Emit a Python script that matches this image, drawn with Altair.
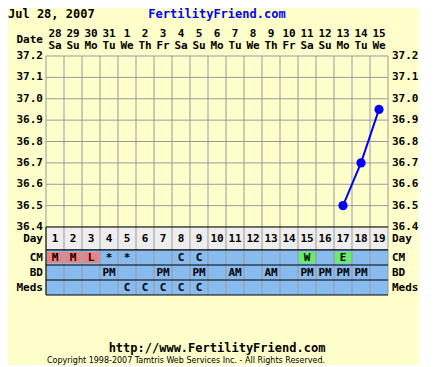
import altair as alt
import pandas as pd

# ---------------- data ----------------
days = list(range(1, 20))
dates = ["28", "29", "30", "31", "1", "2", "3", "4", "5", "6", "7", "8", "9",
         "10", "11", "12", "13", "14", "15"]
weekdays = ["Sa", "Su", "Mo", "Tu", "We", "Th", "Fr", "Sa", "Su", "Mo", "Tu",
            "We", "Th", "Fr", "Sa", "Su", "Mo", "Tu", "We"]
temp_days = [17, 18, 19]
temps = [36.5, 36.7, 36.95]
temp_ticks = [36.4, 36.5, 36.6, 36.7, 36.8, 36.9, 37.0, 37.1, 37.2]
rows = ["CM", "BD", "Meds"]
cm_days = [1, 2, 3, 4, 5, 8, 9, 15, 17]
cm_vals = ["M", "M", "L", "*", "*", "C", "C", "W", "E"]
cm_kind = ["red", "red", "red", "", "", "", "", "green", "green"]
bd_days = [4, 7, 9, 11, 13, 15, 16, 17, 18]
bd_vals = ["PM", "PM", "PM", "AM", "AM", "PM", "PM", "PM", "PM"]
med_days = [5, 6, 7, 8, 9]
med_vals = ["C", "C", "C", "C", "C"]

title_left = "Jul 28, 2007"
title_site = "FertilityFriend.com"
footer_url = "http://www.FertilityFriend.com"
footer_copy = "Copyright 1998-2007 Tamtris Web Services Inc. - All Rights Reserved."

# ---------------- style ----------------
BG = "#FFFFCC"
GRID = "#999999"
BLUE_ROW = "#88BBEE"
DAY_BG = "#EEEEEE"
RED = "#F08080"
GREEN = "#66EE66"
PT = "#0000FF"
FONT = "DejaVu Sans Mono"
FS = 11

W = 342
H_TEMP = 171
H_DAY = 23
H_TAB = 45

xscale = alt.Scale(domain=[0.5, 19.5], nice=False, zero=False)
yscale = alt.Scale(domain=[36.4, 37.2], nice=False, zero=False)

def txt(**kw):
    base = dict(font=FONT, fontSize=FS, fontWeight="bold", color="black", baseline="middle")
    base.update(kw)
    return base

bounds = pd.DataFrame({"b": [d - 0.5 for d in days] + [days[-1] + 0.5]})
day_df = pd.DataFrame({"day": days, "date": dates, "wd": weekdays,
                       "x0": [d - 0.5 for d in days], "x1": [d + 0.5 for d in days]})
tick_df = pd.DataFrame({"t": temp_ticks, "lab": [f"{t:.1f}" for t in temp_ticks]})
temp_df = pd.DataFrame({"day": temp_days, "temp": temps})

X = lambda f: alt.X(f, scale=xscale, axis=None)
YT = lambda f: alt.Y(f, scale=yscale, axis=None)

# ---------------- temperature panel ----------------
vl = alt.Chart(bounds).mark_rule(color=GRID, strokeWidth=1).encode(x=X("b:Q"))
hl = alt.Chart(tick_df).mark_rule(color=GRID, strokeWidth=1).encode(y=YT("t:Q"))
lab_l = alt.Chart(tick_df).mark_text(**txt(align="right")).encode(
    y=YT("t:Q"), x=alt.value(-3), text="lab:N")
lab_r = alt.Chart(tick_df).mark_text(**txt(align="left")).encode(
    y=YT("t:Q"), x=alt.value(W + 4), text="lab:N")
line = alt.Chart(temp_df).mark_line(color=PT, strokeWidth=2).encode(
    x=X("day:Q"), y=YT("temp:Q"))
pts = alt.Chart(temp_df).mark_circle(color=PT, size=85, opacity=1).encode(
    x=X("day:Q"), y=YT("temp:Q"))
hdr_date = alt.Chart(day_df).mark_text(**txt(align="center")).encode(
    x=X("day:Q"), y=alt.value(-22), text="date:N")
hdr_wd = alt.Chart(day_df).mark_text(**txt(align="center")).encode(
    x=X("day:Q"), y=alt.value(-10), text="wd:N")
title_df = pd.DataFrame({"t": [title_left], "s": [title_site], "d": ["Date"]})
t_left = alt.Chart(title_df).mark_text(**txt(align="left", fontSize=12)).encode(
    x=alt.value(-38), y=alt.value(-42), text="t:N")
t_site = alt.Chart(title_df).mark_text(**txt(align="center", fontSize=12, color="#0000FF")).encode(
    x=alt.value(W / 2), y=alt.value(-42), text="s:N")
t_date = alt.Chart(title_df).mark_text(**txt(align="right")).encode(
    x=alt.value(-3), y=alt.value(-16), text="d:N")

temp_panel = alt.layer(vl, hl, line, pts, lab_l, lab_r, hdr_date, hdr_wd,
                       t_left, t_site, t_date).properties(width=W, height=H_TEMP)

# ---------------- day row panel ----------------
ydscale = alt.Scale(domain=[0, 1], nice=False, zero=False, reverse=True)
YD = lambda f: alt.Y(f, scale=ydscale, axis=None)
day_df2 = day_df.assign(r0=0, r1=1, rm=0.5)
d_bg = alt.Chart(day_df2).mark_rect(color=DAY_BG).encode(
    x=X("x0:Q"), x2="x1:Q", y=YD("r0:Q"), y2="r1:Q")
d_vl = alt.Chart(bounds).mark_rule(color=GRID).encode(x=X("b:Q"))
d_h = alt.Chart(pd.DataFrame({"h": [0, 1]})).mark_rule(color="black").encode(y=YD("h:Q"))
d_left = alt.Chart(pd.DataFrame({"b": [0.5]})).mark_rule(color="black").encode(x=X("b:Q"))
d_txt = alt.Chart(day_df2).mark_text(**txt(align="center")).encode(
    x=X("day:Q"), y=YD("rm:Q"), text="day:N")
d_lab = pd.DataFrame({"n": ["Day"], "rm": [0.5]})
d_l = alt.Chart(d_lab).mark_text(**txt(align="right")).encode(
    x=alt.value(-3), y=YD("rm:Q"), text="n:N")
d_r = alt.Chart(d_lab).mark_text(**txt(align="left")).encode(
    x=alt.value(W + 4), y=YD("rm:Q"), text="n:N")
day_panel = alt.layer(d_bg, d_vl, d_h, d_left, d_txt, d_l, d_r).properties(width=W, height=H_DAY)

# ---------------- table panel ----------------
ytscale = alt.Scale(domain=[0, 3], nice=False, zero=False, reverse=True)
YR = lambda f: alt.Y(f, scale=ytscale, axis=None)
cells = pd.DataFrame([{"day": d, "r0": i, "r1": i + 1, "x0": d - 0.5, "x1": d + 0.5}
                      for i, _ in enumerate(rows) for d in days])
entries = []
for i, (ds, vs) in enumerate([(cm_days, cm_vals), (bd_days, bd_vals), (med_days, med_vals)]):
    for d, v in zip(ds, vs):
        entries.append({"day": d, "v": v, "rm": i + 0.5})
ent = pd.DataFrame(entries)
col_df = pd.DataFrame({"day": cm_days, "kind": cm_kind, "r0": 0, "r1": 1})
col_df = col_df[col_df["kind"] != ""].assign(x0=lambda d: d.day - 0.5, x1=lambda d: d.day + 0.5)

t_bg = alt.Chart(cells).mark_rect(color=BLUE_ROW).encode(
    x=X("x0:Q"), x2="x1:Q", y=YR("r0:Q"), y2="r1:Q")
t_col = alt.Chart(col_df).mark_rect(xOffset=1, x2Offset=-1, yOffset=2, y2Offset=-2).encode(
    x=X("x0:Q"), x2="x1:Q", y=YR("r0:Q"), y2="r1:Q",
    color=alt.Color("kind:N", scale=alt.Scale(domain=["red", "green"], range=[RED, GREEN]),
                    legend=None))
t_vl = alt.Chart(bounds).mark_rule(color=GRID).encode(x=X("b:Q"))
t_h = alt.Chart(pd.DataFrame({"h": [0, 1, 2, 3]})).mark_rule(color="black").encode(y=YR("h:Q"))
t_left = alt.Chart(pd.DataFrame({"b": [0.5]})).mark_rule(color="black").encode(x=X("b:Q"))
t_txt = alt.Chart(ent).mark_text(**txt(align="center")).encode(
    x=X("day:Q"), y=YR("rm:Q"), text="v:N")
r_lab = pd.DataFrame({"n": rows, "rm": [i + 0.5 for i in range(len(rows))]})
t_l = alt.Chart(r_lab).mark_text(**txt(align="right")).encode(
    x=alt.value(-3), y=YR("rm:Q"), text="n:N")
t_r = alt.Chart(r_lab).mark_text(**txt(align="left")).encode(
    x=alt.value(W + 4), y=YR("rm:Q"), text="n:N")
foot_df = pd.DataFrame({"u": [footer_url], "c": [footer_copy]})
f_url = alt.Chart(foot_df).mark_text(**txt(align="center", fontSize=12)).encode(
    x=alt.value(W / 2), y=alt.value(98), text="u:N")
f_copy = alt.Chart(foot_df).mark_text(font="DejaVu Sans", fontSize=8, color="black",
                                      align="left", baseline="middle").encode(
    x=alt.value(1), y=alt.value(111), text="c:N")
tab_panel = alt.layer(t_bg, t_col, t_vl, t_h, t_left, t_txt, t_l, t_r, f_url, f_copy).properties(
    width=W, height=H_TAB)

chart = alt.vconcat(temp_panel, day_panel, tab_panel, spacing=0, bounds="flush").properties(
    padding=0, background=BG
).configure_view(stroke=None)

chart.save("out.html", embed_options={"renderer": "svg", "actions": False})
